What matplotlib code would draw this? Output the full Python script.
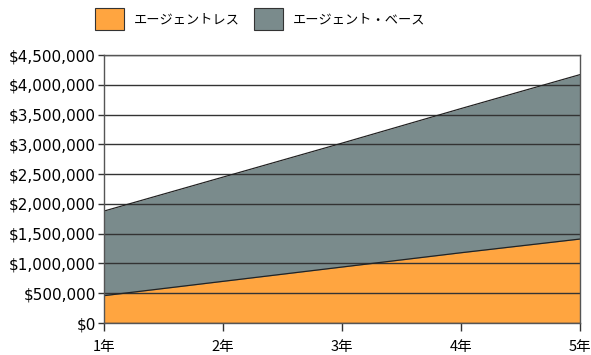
import matplotlib
matplotlib.use("Agg")
import matplotlib.pyplot as plt
from matplotlib.patches import Patch
from matplotlib.ticker import FuncFormatter

plt.rcParams['font.family'] = ['Noto Sans CJK JP', 'DejaVu Sans']

years = ["1年", "2年", "3年", "4年", "5年"]
agentless = [460000, 700000, 940000, 1180000, 1410000]
agent_based = [1880000, 2450000, 3020000, 3600000, 4170000]
series_names = ["エージェントレス", "エージェント・ベース"]
yticks = list(range(0, 4500001, 500000))

orange = "#FFA540"
grey = "#7A8B8C"

fig = plt.figure(figsize=(5.91, 3.55), dpi=100)
ax = fig.add_axes([0.176, 0.090, 0.805, 0.755])
x = list(range(len(years)))
ax.fill_between(x, 0, agent_based, color=grey, lw=0, zorder=1)
ax.plot(x, agent_based, color="#222222", lw=0.9, zorder=3)
ax.fill_between(x, 0, agentless, color=orange, lw=0, zorder=2)
ax.plot(x, agentless, color="#222222", lw=0.9, zorder=3)

ax.set_xlim(0, len(years) - 1)
ax.set_ylim(0, 4500000)
ax.set_yticks(yticks)
ax.yaxis.set_major_formatter(FuncFormatter(lambda v, p: "${:,.0f}".format(v)))
ax.set_xticks(x)
ax.set_xticklabels(years)
ax.grid(axis='y', color="#333333", lw=1.0, zorder=4)
ax.set_axisbelow(False)
for s in ax.spines.values():
    s.set_color("#555555")
    s.set_linewidth(1.0)
    s.set_zorder(5)
ax.tick_params(axis='y', color="#333333", length=4, width=1.0, pad=2,
               labelsize=11, labelfontfamily='DejaVu Sans')
ax.tick_params(axis='x', color="#333333", length=6, width=1.0, pad=6, labelsize=10.5)

handles = [Patch(facecolor=orange, edgecolor="#333333", lw=0.8),
           Patch(facecolor=grey, edgecolor="#333333", lw=0.8)]
fig.legend(handles, series_names, loc='upper left', bbox_to_anchor=(0.140, 1.01),
           ncol=2, frameon=False, fontsize=9.5, handlelength=2.2, handleheight=2.2,
           columnspacing=1.1, handletextpad=0.75)

fig.savefig("out.png", dpi=100)
